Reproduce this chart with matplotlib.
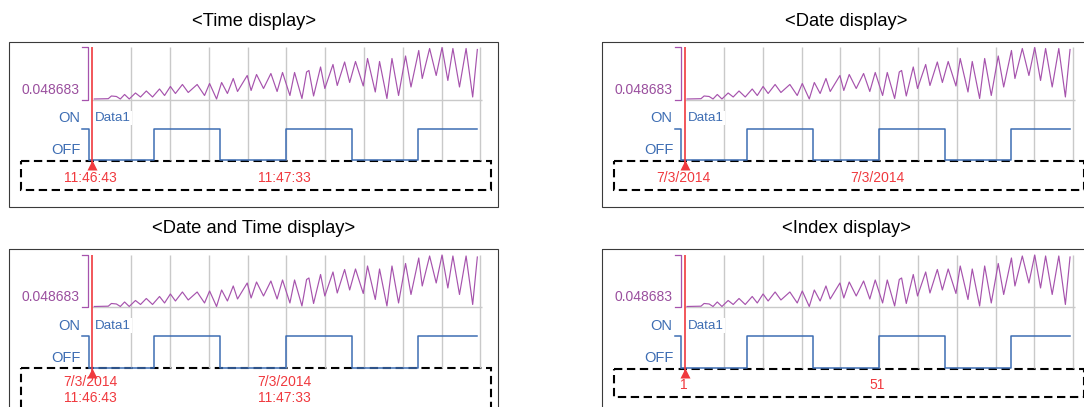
import matplotlib
matplotlib.use("Agg")
import matplotlib.pyplot as plt
from matplotlib.patches import Rectangle

plt.rcParams['font.family'] = ['Liberation Sans', 'DejaVu Sans']

# ---------------- data ----------------
WAVE_T = [1.5, 5.1, 5.9, 7.2, 8.2, 9.3, 10.5, 12.1, 13.4, 14.9, 16.5, 18.3, 19.6, 21.1, 22.4,
          24.2, 25.7, 28.0, 29.9, 31.2, 33.0, 34.3, 35.8, 37.3, 38.4, 40.9, 41.9, 43.3, 45.1,
          47.0, 48.6, 50.0, 51.9, 53.1, 55.0, 56.2, 56.8, 58.0, 59.8, 60.9, 63.0, 64.1, 66.0,
          67.3, 68.8, 70.8, 71.9, 73.9, 75.0, 76.9, 78.2, 79.9, 81.7, 83.1, 85.1, 86.0, 87.9,
          89.6, 91.1, 92.6, 93.9, 95.6, 97.3, 99.0, 100.2]
WAVE_V = [0.0492, 0.0495, 0.0522, 0.0517, 0.0492, 0.0537, 0.0492, 0.0552, 0.0512, 0.0572,
          0.0512, 0.0592, 0.0527, 0.0617, 0.0547, 0.0637, 0.0557, 0.0637, 0.0527, 0.0647,
          0.0492, 0.0657, 0.0547, 0.0697, 0.0567, 0.0727, 0.0577, 0.0737, 0.0597, 0.0747,
          0.0567, 0.0757, 0.0527, 0.0757, 0.0497, 0.0762, 0.0777, 0.0522, 0.0812, 0.0597,
          0.0837, 0.0627, 0.0862, 0.0657, 0.0867, 0.0622, 0.0897, 0.0562, 0.0867, 0.0497,
          0.0897, 0.0527, 0.0922, 0.0612, 0.0977, 0.0697, 0.0997, 0.0727, 0.1007, 0.0677,
          0.0997, 0.0612, 0.0997, 0.0512, 0.0987]
DIG_T = [0, 17, 34, 51, 68, 85, 100.2]
DIG_S = [0, 1, 0, 1, 0, 1, 1]
GRID_T = [11, 21, 31, 41, 51, 61, 71, 81, 91, 101]
CURSOR_T = 1
LABEL_T = [1, 51]
ANALOG_MIN = 0.048683
ANALOG_LABEL = "0.048683"
CHANNEL = "Data1"

PANELS = [
    ("<Time display>", [["11:46:43"], ["11:47:33"]]),
    ("<Date display>", [["7/3/2014"], ["7/3/2014"]]),
    ("<Date and Time display>", [["7/3/2014", "11:46:43"], ["7/3/2014", "11:47:33"]]),
    ("<Index display>", [["1"], ["51"]]),
]

# ---------------- style ----------------
W, H = 1084, 407
PURPLE_TXT = '#9a4f9e'
PURPLE = '#a653ad'
BLUE = '#3d6db3'
RED = '#f0393e'
GRID = '#c9c9c9'
PX = 0.72  # points per pixel at 100 dpi

fig = plt.figure(figsize=(W / 100, H / 100), dpi=100)
ov = fig.add_axes([0, 0, 1, 1])
ov.set_xlim(0, W)
ov.set_ylim(H, 0)
ov.axis('off')


def rect(x0, y0, x1, y1):
    return [x0 / W, 1 - y1 / H, (x1 - x0) / W, (y1 - y0) / H]


OFFSETS = [(0, 0), (592.7, 0), (0, 207.5), (592.7, 207.5)]

for (title, labels), (ox, oy) in zip(PANELS, OFFSETS):
    two_line = len(labels[0]) == 2
    # title
    ov.text(ox + 254, oy + 21, title, ha='center', va='center', fontsize=13.2, color='black')
    # panel frame
    ov.add_patch(Rectangle((ox + 9, oy + 41.7), 489, 165.3, fill=False,
                           edgecolor='#3a3a3a', lw=0.8))
    # dashed label box
    box_h = 60 if two_line else 28.5
    box_top = oy + (160 if two_line else 161)
    ov.add_patch(Rectangle((ox + 21, box_top), 470, box_h, fill=False,
                           edgecolor='black', lw=1.5, linestyle=(0, (4, 2.2))))
    # brackets
    ov.plot([ox + 82, ox + 88, ox + 88, ox + 82], [oy + 47, oy + 47, oy + 99.5, oy + 99.5],
            color=PURPLE, lw=0.9)
    ov.plot([ox + 82, ox + 88.5, ox + 88.5], [oy + 128.5, oy + 128.5, oy + 160],
            color=BLUE, lw=1.1)
    ov.text(ox + 80, oy + 89.5, ANALOG_LABEL, ha='right', va='center', fontsize=10,
            color=PURPLE_TXT)
    ov.text(ox + 80, oy + 118.5, "ON", ha='right', va='center', fontsize=10.5, color=BLUE)
    ov.text(ox + 81, oy + 150, "OFF", ha='right', va='center', fontsize=10.5, color=BLUE)

    # analog axes
    ax_a = fig.add_axes(rect(ox + 88.5, oy + 47, ox + 482, oy + 99.5))
    ax_a.set_xlim(0, 101.4)
    ax_a.set_ylim(ANALOG_MIN, ANALOG_MIN + 0.0525)
    ax_a.axis('off')
    ylo, yhi = ax_a.get_ylim()
    ax_a.vlines(GRID_T, ylo, yhi, color=GRID, lw=1.0, zorder=1)
    ax_a.hlines(ylo, CURSOR_T, 101.4, color=GRID, lw=1.0, zorder=1, clip_on=False)
    ax_a.plot(WAVE_T, WAVE_V, color=PURPLE, lw=0.85, zorder=2, clip_on=False)
    ax_a.axvline(CURSOR_T, color=RED, lw=1.2, zorder=5)

    # digital axes
    ax_d = fig.add_axes(rect(ox + 88.5, oy + 99.5, ox + 482, oy + 164))
    ax_d.set_xlim(0, 101.4)
    ax_d.set_ylim(-4 / 31.5, 60.5 / 31.5)
    ax_d.axis('off')
    ax_d.vlines(GRID_T, 0, 60.5 / 31.5, color=GRID, lw=1.0, zorder=1)
    ax_d.step(DIG_T, DIG_S, where='post', color=BLUE, lw=1.1, zorder=2)
    ax_d.text(CURSOR_T + 0.6, 1.33, CHANNEL, ha='left', va='center', fontsize=9.6,
              color=BLUE, zorder=3,
              bbox=dict(boxstyle='square,pad=0.1', fc='white', ec='none'))
    ax_d.axvline(CURSOR_T, color=RED, lw=1.2, zorder=5)
    ax_d.plot([CURSOR_T], [-0.16], marker='^', ms=7.5, color=RED, mec='none',
              clip_on=False, zorder=6)

    for t, lab in zip(LABEL_T, labels):
        if two_line:
            dys = [-14.5, -31]
        else:
            dys = [-17.5]
        for txt, dy in zip(lab, dys):
            ax_d.annotate(txt, xy=(t, 0), xytext=(-1.2, dy * PX), textcoords='offset points',
                          ha='center', va='center', fontsize=10, color=RED,
                          annotation_clip=False)

fig.savefig('out.png', dpi=100)
